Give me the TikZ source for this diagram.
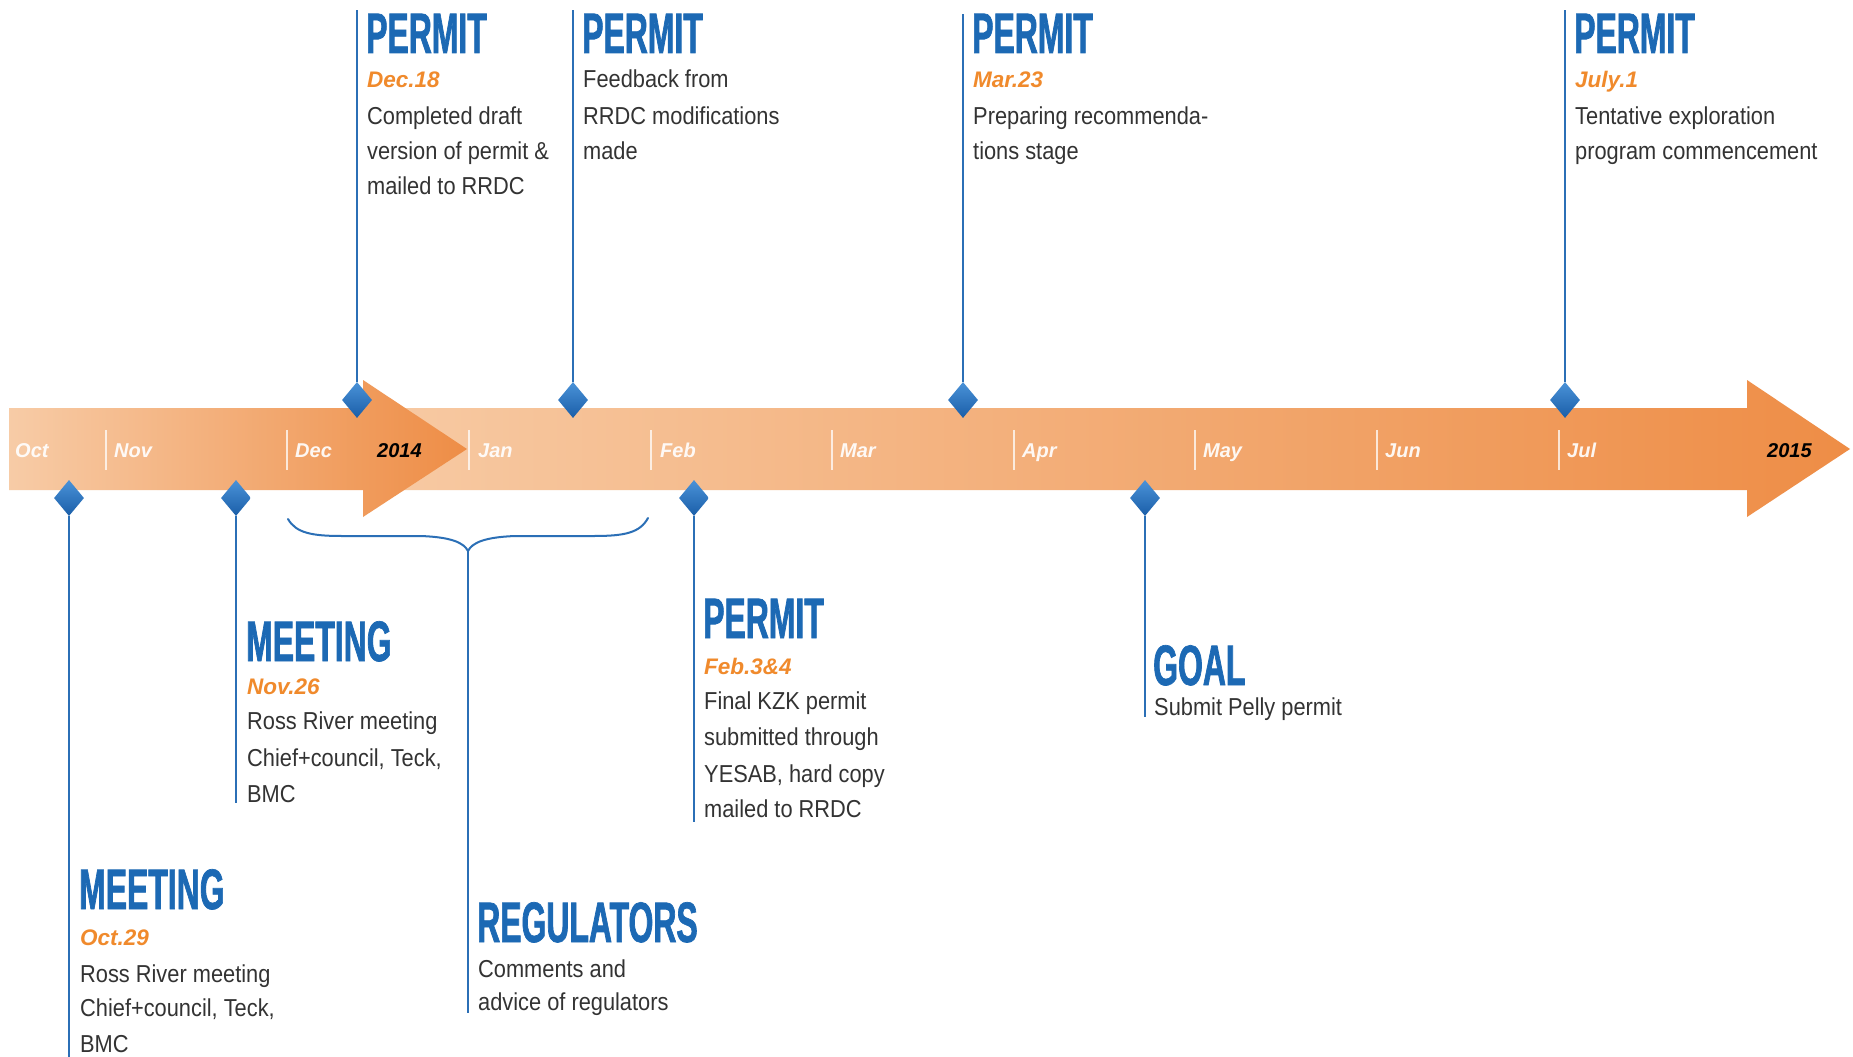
\documentclass[tikz,border=0pt]{standalone}
\usepackage{fontspec}
\setmainfont{Liberation Sans}
\newfontfamily\ttlfont[FakeStretch=0.56, BoldFeatures={FakeBold=1.2}]{Liberation Sans}
\newfontfamily\bdyfont[FakeStretch=0.89]{Liberation Sans}
\usetikzlibrary{shapes.geometric}
\definecolor{tlblue}{HTML}{1C69B4}
\definecolor{lnblue}{HTML}{2B6FB6}
\definecolor{tlorange}{HTML}{F08A2C}
\definecolor{tlgray}{HTML}{333333}
\definecolor{bandlight}{HTML}{F7C9A2}
\definecolor{banddark}{HTML}{EE8D46}
\definecolor{diatop}{HTML}{4A92D8}
\definecolor{diabot}{HTML}{1A5EA8}
\begin{document}
\begin{tikzpicture}[x=1pt,y=-1pt,
  ttl/.style={anchor=base west, inner sep=0pt, text=tlblue, font=\ttlfont\bfseries\fontsize{57}{57}\selectfont},
  dte/.style={anchor=base west, inner sep=0pt, text=tlorange, font=\bfseries\itshape\fontsize{22.5}{22.5}\selectfont},
  bdy/.style={anchor=base west, inner sep=0pt, text=tlgray, font=\bdyfont\fontsize{24.5}{24.5}\selectfont},
  mon/.style={anchor=base west, inner sep=0pt, text=white, text opacity=0.92, font=\bfseries\itshape\fontsize{20}{20}\selectfont},
  yr/.style={anchor=base west, inner sep=0pt, text=black, font=\bfseries\itshape\fontsize{20}{20}\selectfont},
  tickln/.style={draw=white, line width=1.3pt, opacity=0.75},
  dia/.style={diamond, minimum width=30pt, minimum height=36pt, inner sep=0pt, top color=diatop, bottom color=diabot, draw=none},
  vline/.style={draw=lnblue, line width=2.2pt}]
\useasboundingbox (0,0) rectangle (1853,1057);
\fill[white] (0,0) rectangle (1853,1057);

% second (long) arrow
\shade[left color=bandlight, right color=banddark]
  (400,408) -- (1747,408) -- (1747,380) -- (1850,449) -- (1747,517) -- (1747,490) -- (400,490) -- cycle;
% first arrow
\shade[left color=bandlight!95!white, right color=banddark]
  (9,408) -- (363,408) -- (363,380) -- (467,449) -- (363,517) -- (363,490) -- (9,490) -- cycle;

% month ticks
\foreach \tx in {106,287,469,651,832,1014,1195,1377,1559}
  \draw[tickln] (\tx,430) -- (\tx,470);

% month labels
\node[mon] (mOct) at (15,457) {Oct};
\node[mon] (mNov) at (114,457) {Nov};
\node[mon] (mDec) at (295,457) {Dec};
\node[yr]  (y2014) at (377,457) {2014};
\node[mon] (mJan) at (478,457) {Jan};
\node[mon] (mFeb) at (660,457) {Feb};
\node[mon] (mMar) at (840,457) {Mar};
\node[mon] (mApr) at (1022,457) {Apr};
\node[mon] (mMay) at (1203,457) {May};
\node[mon] (mJun) at (1385,457) {Jun};
\node[mon] (mJul) at (1567,457) {Jul};
\node[yr]  (y2015) at (1767,457) {2015};

% diamonds
\node[dia] (dDec) at (357,400) {};
\node[dia] (dFbk) at (573,400) {};
\node[dia] (dMar) at (963,400) {};
\node[dia] (dJul) at (1565,400) {};
\node[dia] (dOct) at (69,498) {};
\node[dia] (dNov) at (236,498) {};
\node[dia] (dFeb) at (694,498) {};
\node[dia] (dGoal) at (1145,498) {};

% free ends of connectors
\coordinate (tDec) at (357,10);
\coordinate (tFbk) at (573,10);
\coordinate (tMar) at (963,14);
\coordinate (tJul) at (1565,10);
\coordinate (bOct) at (69,1057);
\coordinate (bNov) at (236,803);
\coordinate (bFeb) at (694,822);
\coordinate (bGoal) at (1145,717);
\coordinate (bCusp) at (468,551);
\coordinate (bReg) at (468,1013);

% connectors
\draw[vline] (dDec.north) -- (tDec);
\draw[vline] (dFbk.north) -- (tFbk);
\draw[vline] (dMar.north) -- (tMar);
\draw[vline] (dJul.north) -- (tJul);
\draw[vline] (dOct.south) -- (bOct);
\draw[vline] (dNov.south) -- (bNov);
\draw[vline] (dFeb.south) -- (bFeb);
\draw[vline] (dGoal.south) -- (bGoal);

% brace
\draw[lnblue, line width=2pt, line cap=round]
  (288,519) .. controls (296,533) and (312,536) .. (342,536)
  -- (420,536) .. controls (452,537) and (464,543) .. (bCusp)
  .. controls (472,543) and (484,537) .. (516,536)
  -- (594,536) .. controls (624,536) and (640,533) .. (648,518);
\draw[vline] (bCusp) -- (bReg);

% upper events
\node[ttl] (e1t) at (366,53) {PERMIT};
\node[dte] (e1d) at (367,88) {Dec.18};
\node[bdy] (e1a) at (367,124) {Completed draft};
\node[bdy] (e1b) at (367,159) {version of permit \&};
\node[bdy] (e1c) at (367,194) {mailed to RRDC};

\node[ttl] (e2t) at (582,53) {PERMIT};
\node[bdy] (e2a) at (583,88) {Feedback from};
\node[bdy] (e2b) at (583,124) {RRDC modifications};
\node[bdy] (e2c) at (583,159) {made};

\node[ttl] (e3t) at (972,53) {PERMIT};
\node[dte] (e3d) at (973,88) {Mar.23};
\node[bdy] (e3a) at (973,124) {Preparing recommenda-};
\node[bdy] (e3b) at (973,159) {tions stage};

\node[ttl] (e4t) at (1574,53) {PERMIT};
\node[dte] (e4d) at (1575,88) {July.1};
\node[bdy] (e4a) at (1575,124) {Tentative exploration};
\node[bdy] (e4b) at (1575,159) {program commencement};

% lower events
\node[ttl] (e5t) at (246,661) {MEETING};
\node[dte] (e5d) at (247,694) {Nov.26};
\node[bdy] (e5a) at (247,729) {Ross River meeting};
\node[bdy] (e5b) at (247,766) {Chief+council, Teck,};
\node[bdy] (e5c) at (247,802) {BMC};

\node[ttl] (e6t) at (79,909) {MEETING};
\node[dte] (e6d) at (80,945) {Oct.29};
\node[bdy] (e6a) at (80,982) {Ross River meeting};
\node[bdy] (e6b) at (80,1016) {Chief+council, Teck,};
\node[bdy] (e6c) at (80,1052) {BMC};

\node[ttl] (e7t) at (703,638) {PERMIT};
\node[dte] (e7d) at (704,674) {Feb.3\&4};
\node[bdy] (e7a) at (704,709) {Final KZK permit};
\node[bdy] (e7b) at (704,745) {submitted through};
\node[bdy] (e7c) at (704,782) {YESAB, hard copy};
\node[bdy] (e7d2) at (704,817) {mailed to RRDC};

\node[ttl] (e8t) at (477,942) {REGULATORS};
\node[bdy] (e8a) at (478,977) {Comments and};
\node[bdy] (e8b) at (478,1010) {advice of regulators};

\node[ttl] (e9t) at (1153,685) {GOAL};
\node[bdy] (e9a) at (1154,715) {Submit Pelly permit};
\end{tikzpicture}
\end{document}
